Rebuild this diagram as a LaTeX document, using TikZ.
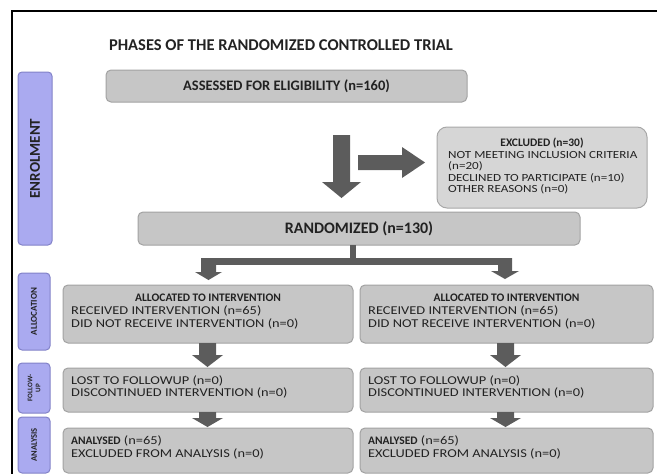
\documentclass[tikz,border=0pt]{standalone}
\usepackage{fontspec}
\setmainfont{Carlito}
\newfontfamily\widereg[FakeStretch=1.2]{Carlito}
\definecolor{boxfill}{HTML}{C6C6C6}
\definecolor{boxline}{HTML}{A2A2A2}
\definecolor{exfill}{HTML}{D6D6D6}
\definecolor{exline}{HTML}{A8A8A8}
\definecolor{purfill}{HTML}{AAAAF0}
\definecolor{purline}{HTML}{8282C8}
\definecolor{arrowc}{HTML}{5C5C5C}
\definecolor{txt}{HTML}{222222}
\begin{document}
\begin{tikzpicture}[x=1pt,y=-1pt,
  gbox/.style={draw=boxline, fill=boxfill, rounded corners=5pt, line width=1pt, inner sep=0pt},
  exbox/.style={draw=exline, fill=exfill, rounded corners=10pt, line width=1pt, inner sep=0pt},
  pbox/.style={draw=purline, fill=purfill, rounded corners=4pt, line width=1pt, inner sep=0pt},
  small/.style={inner sep=0pt, anchor=base west, text=txt, font=\widereg\fontsize{12}{13}\selectfont},
  exsmall/.style={inner sep=0pt, anchor=base west, text=txt, font=\widereg\fontsize{10.9}{12}\selectfont},
  smallc/.style={inner sep=0pt, anchor=base, text=txt, font=\fontsize{11.5}{13}\selectfont\bfseries},
  blk/.style={fill=arrowc, draw=none}]
\useasboundingbox (0,0) rectangle (657,474);
\draw[line width=2.2pt] (12,474) -- (12,11) -- (657,11);

% title
\node[inner sep=0pt, text=txt, font=\fontsize{16.5}{18}\selectfont\bfseries] (title) at (281,45) {PHASES OF THE RANDOMIZED CONTROLLED TRIAL};

% phase labels
\node[pbox, minimum width=34pt, minimum height=173pt] (lenrol) at (35,158.5) {};
\node[rotate=90, inner sep=0pt, text=txt, font=\fontsize{15}{16}\selectfont\bfseries] (tenrol) at (lenrol.center) {ENROLMENT};
\node[pbox, minimum width=32pt, minimum height=77pt] (lalloc) at (34,311.5) {};
\node[rotate=90, inner sep=0pt, text=txt, font=\fontsize{9}{10}\selectfont\bfseries] (talloc) at (lalloc.center) {ALLOCATION};
\node[pbox, minimum width=32pt, minimum height=50pt] (lfollow) at (34,388) {};
\node[rotate=90, inner sep=0pt, align=center, text=txt, font=\fontsize{7}{8}\selectfont\bfseries] (tfollow) at (lfollow.center) {FOLLOW-\\UP};
\node[pbox, minimum width=32pt, minimum height=56pt] (lanal) at (34,445) {};
\node[rotate=90, inner sep=0pt, text=txt, font=\fontsize{8.5}{9}\selectfont\bfseries] (tanal) at (lanal.center) {ANALYSIS};

% main boxes
\node[gbox, minimum width=361pt, minimum height=32pt, text=txt, font=\fontsize{14.5}{16}\selectfont\bfseries] (assess) at (286.5,86) {ASSESSED FOR ELIGIBILITY (n=160)};
\node[exbox, minimum width=210pt, minimum height=81pt] (excl) at (542,167.5) {};
\node[smallc] (exT) at (542,146) {EXCLUDED (n=30)};
\node[exsmall] (ex1) at (448,158) {NOT MEETING INCLUSION CRITERIA};
\node[exsmall] (ex2) at (448,169.5) {(n=20)};
\node[exsmall] (ex3) at (448,181) {DECLINED TO PARTICIPATE (n=10)};
\node[exsmall] (ex4) at (448,192.5) {OTHER REASONS (n=0)};

\node[gbox, minimum width=442pt, minimum height=33pt, text=txt, font=\fontsize{16}{18}\selectfont\bfseries] (rand) at (359,228.5) {RANDOMIZED (n=130)};

\node[gbox, minimum width=290pt, minimum height=58pt] (allocL) at (208,314) {};
\node[gbox, minimum width=293pt, minimum height=58pt] (allocR) at (506.5,314) {};
\node[gbox, minimum width=290pt, minimum height=44pt] (followL) at (208,390) {};
\node[gbox, minimum width=293pt, minimum height=44pt] (followR) at (506.5,390) {};
\node[gbox, minimum width=290pt, minimum height=45pt] (analL) at (208,450.5) {};
\node[gbox, minimum width=293pt, minimum height=45pt] (analR) at (506.5,450.5) {};

% texts left
\node[smallc] (aLT) at (208,301) {ALLOCATED TO INTERVENTION};
\node[small] (aL1) at (71,314) {RECEIVED INTERVENTION (n=65)};
\node[small] (aL2) at (71,327) {DID NOT RECEIVE INTERVENTION (n=0)};
\node[small] (fL1) at (71,384) {LOST TO FOLLOWUP (n=0)};
\node[small] (fL2) at (71,396) {DISCONTINUED INTERVENTION (n=0)};
\node[small] (nL1) at (71,444) {{\normalfont\fontsize{11.5}{13}\selectfont\bfseries ANALYSED} (n=65)};
\node[small] (nL2) at (71,457) {EXCLUDED FROM ANALYSIS (n=0)};
% texts right
\node[smallc] (aRT) at (506.5,301) {ALLOCATED TO INTERVENTION};
\node[small] (aR1) at (368,314) {RECEIVED INTERVENTION (n=65)};
\node[small] (aR2) at (368,327) {DID NOT RECEIVE INTERVENTION (n=0)};
\node[small] (fR1) at (368,384) {LOST TO FOLLOWUP (n=0)};
\node[small] (fR2) at (368,396) {DISCONTINUED INTERVENTION (n=0)};
\node[small] (nR1) at (368,444) {{\normalfont\fontsize{11.5}{13}\selectfont\bfseries ANALYSED} (n=65)};
\node[small] (nR2) at (368,457) {EXCLUDED FROM ANALYSIS (n=0)};

% block arrows
\fill[blk] (333,135) -- (350,135) -- (350,182) -- (361,182) -- (341.5,198) -- (322,182) -- (333,182) -- cycle;
\fill[blk] (358,155) -- (402,155) -- (402,147) -- (425,162.5) -- (402,178) -- (402,170) -- (358,170) -- cycle;

% split connector
\fill[blk] (350,245) rectangle (356,262);
\fill[blk] (201,258) rectangle (512,265);
\fill[blk] (201,258) -- (216,258) -- (216,272) -- (222,272) -- (208.5,280) -- (195,272) -- (201,272) -- cycle;
\fill[blk] (498,258) -- (512,258) -- (512,271) -- (519,271) -- (505,279) -- (491,271) -- (498,271) -- cycle;

% alloc -> follow
\fill[blk] (199,343) -- (216,343) -- (216,355) -- (223,355) -- (207.5,367) -- (192,355) -- (199,355) -- cycle;
\fill[blk] (497,343) -- (514,343) -- (514,355) -- (521,355) -- (505.5,367) -- (490,355) -- (497,355) -- cycle;
% follow -> analysis
\fill[blk] (199,412) -- (216,412) -- (216,418) -- (223,418) -- (207.5,427) -- (192,418) -- (199,418) -- cycle;
\fill[blk] (497,412) -- (514,412) -- (514,418) -- (521,418) -- (505.5,427) -- (490,418) -- (497,418) -- cycle;
\end{tikzpicture}
\end{document}
